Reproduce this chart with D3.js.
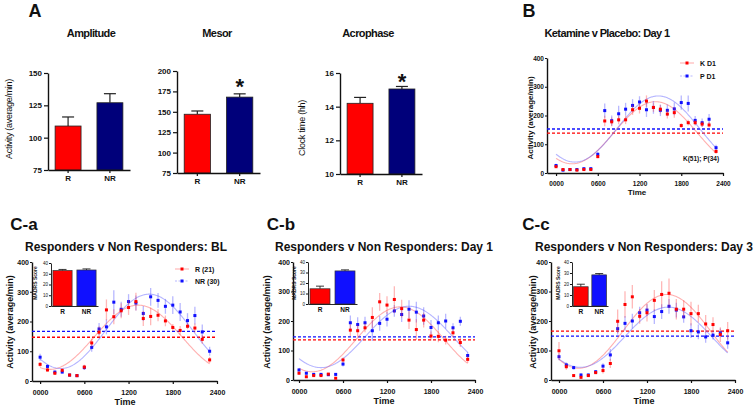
<!DOCTYPE html>
<html><head><meta charset="utf-8">
<script src="https://cdn.jsdelivr.net/npm/d3@7"></script>
<style>
body{margin:0;background:#fff}
svg{display:block}
text{font-family:"Liberation Sans",Arial,sans-serif;fill:#111}
</style>
</head><body>
<svg id="chart" width="754" height="408"></svg>
<script>
// ---------------- DATA ----------------
const groupsA = ["R", "NR"];
const amplitudeVals = [109, 127];
const amplitudeErr = [7, 7];
const mesorVals = [147, 168];
const mesorErr = [4, 4];
const acrophaseVals = [14.2, 15.05];
const acrophaseErr = [0.35, 0.15];
const amplitudeTicks = [75, 100, 125, 150];
const mesorTicks = [75, 100, 125, 150, 175, 200];
const acrophaseTicks = [10, 12, 14, 16];

const hours = [0,1,2,3,4,5,6,7,8,9,10,11,12,13,14,15,16,17,18,19,20,21,22,23];
const timeTickVals = [0, 6, 12, 18, 24];
const timeTickLabels = ["0000", "0600", "1200", "1800", "2400"];
const activityTicks = [0, 100, 200, 300, 400];

// Panel B: Ketamine (K D1) vs Placebo (P D1)
const bK = [22,12,12,10,12,12,57,181,178,185,185,220,225,250,228,222,205,210,165,175,175,170,167,75];
const bKErr = [5,4,3,4,4,4,6,18,15,15,15,18,18,20,15,15,15,18,8,10,10,10,10,8];
const bP = [26,10,12,12,15,15,65,217,182,206,222,235,247,220,228,218,218,223,245,242,183,175,187,88];
const bPErr = [6,4,3,4,4,4,8,25,18,28,22,22,20,25,22,20,20,22,25,28,15,15,18,10];
const bMesorLines = [139, 153];          // K, P
const bFitK = [140, 108, 14.3];          // mesor, amplitude, acrophase (h)
const bFitP = [153, 115, 14.7];

// Panel C-a: Responders vs Non Responders, BL
const caR = [56,37,26,36,20,18,47,128,164,239,216,236,247,267,210,217,221,202,180,170,184,178,140,71];
const caRErr = [8,6,5,5,4,4,8,14,20,35,25,25,25,30,25,30,20,18,12,15,10,15,15,10];
const caNR = [80,49,30,30,20,18,45,113,175,182,265,241,267,262,227,283,271,251,255,232,203,220,165,100];
const caNRErr = [12,8,5,5,4,4,8,15,20,25,40,25,25,25,25,30,25,25,30,30,25,30,25,15];
const caMesorLines = [147, 167];
const caFitR = [147, 108, 13.3];
const caFitNR = [167, 125, 14.8];
const caMadrs = [33, 33.5];
const caMadrsErr = [1, 1];

// Panel C-b: Day 1
const cbR = [23,11,15,15,20,6,68,169,167,177,212,265,254,273,242,203,171,203,149,148,135,160,127,70];
const cbRErr = [5,4,3,3,3,3,8,20,20,15,35,30,30,45,30,30,35,25,15,20,15,15,15,12];
const cbNR = [34,23,19,19,18,19,54,194,188,194,167,192,206,234,222,240,230,217,178,194,200,177,199,83];
const cbNRErr = [6,4,3,3,3,3,8,25,25,20,35,25,25,20,25,30,35,30,25,25,25,15,15,12];
const cbMesorLines = [136, 146];
const cbFitR = [138, 110, 13.8];
const cbFitNR = [146, 104, 15.0];
const cbMadrs = [14.5, 31.5];
const cbMadrsErr = [2.5, 1];

// Panel C-c: Day 3
const ccR = [99,45,15,9,15,25,32,56,199,256,282,216,228,270,290,294,240,240,225,225,190,188,154,167];
const ccRErr = [30,10,3,3,3,5,10,15,40,45,40,25,30,35,45,50,35,30,40,30,30,25,25,30];
const ccNR = [79,51,42,17,17,28,47,85,174,192,200,228,237,215,232,250,237,214,167,163,146,152,160,126];
const ccNRErr = [12,8,6,6,5,6,10,20,20,25,25,20,20,25,25,25,25,20,25,25,20,15,15,20];
const ccMesorLines = [166, 149];
const ccFitR = [165, 125, 14.7];
const ccFitNR = [145, 102, 14.9];
const ccMadrs = [17.5, 28.3];
const ccMadrsErr = [2.3, 1.2];
const madrsTicks = [0, 10, 20, 30, 40];

// ---------------- DRAWING ----------------
const svg = d3.select("#chart");
const RED = "#ff0000", BLUE = "#1010ff", NAVY = "#00007a";
const fmtInt = d3.format("d");

function styleAxis(sel, fs, weight) {
  sel.select(".domain").attr("stroke", "#111").attr("stroke-width", 1.4);
  sel.selectAll(".tick line").attr("stroke", "#111").attr("stroke-width", 1.2);
  sel.selectAll(".tick text").attr("font-size", fs).attr("font-weight", weight || "bold")
     .attr("font-family", '"Liberation Sans",Arial,sans-serif').attr("fill", "#111");
}

function txt(x, y, s, fs, opts) {
  opts = opts || {};
  const t = svg.append("text").attr("x", x).attr("y", y).text(s)
    .attr("font-size", fs).attr("font-weight", opts.weight || "bold")
    .attr("text-anchor", opts.anchor || "middle");
  if (opts.ls) t.attr("letter-spacing", opts.ls);
  if (opts.rotate) t.attr("x", 0).attr("y", 0).attr("transform", `translate(${x},${y}) rotate(-90)`);
  return t;
}

// Panel A bar charts
function barPanel(cfg) {
  const g = svg.append("g");
  const x = d3.scaleBand().domain(groupsA).range([cfg.left, cfg.right]).paddingInner(0.38).paddingOuter(0.17);
  const y = d3.scaleLinear().domain(cfg.domain).range([cfg.bottom, cfg.top]);
  const colors = [RED, NAVY];
  groupsA.forEach((k, i) => {
    const cx = x(k) + x.bandwidth() / 2;
    g.append("line").attr("x1", cx).attr("x2", cx).attr("y1", y(cfg.vals[i])).attr("y2", y(cfg.vals[i] + cfg.errs[i]))
      .attr("stroke", "#222").attr("stroke-width", 1.2);
    g.append("line").attr("x1", cx - 6).attr("x2", cx + 6).attr("y1", y(cfg.vals[i] + cfg.errs[i])).attr("y2", y(cfg.vals[i] + cfg.errs[i]))
      .attr("stroke", "#222").attr("stroke-width", 1.2);
  });
  g.selectAll("rect.bar").data(cfg.vals).join("rect")
    .attr("x", (d, i) => x(groupsA[i])).attr("width", x.bandwidth())
    .attr("y", d => y(d)).attr("height", d => cfg.bottom - y(d))
    .attr("fill", (d, i) => colors[i]).attr("stroke", "#222").attr("stroke-width", 0.8);
  const ya = g.append("g").attr("transform", `translate(${cfg.left},0)`)
    .call(d3.axisLeft(y).tickValues(cfg.ticks).tickFormat(fmtInt).tickSize(4).tickPadding(2).tickSizeOuter(0));
  styleAxis(ya, 8);
  const xa = g.append("g").attr("transform", `translate(0,${cfg.bottom})`)
    .call(d3.axisBottom(x).tickSize(3).tickPadding(2).tickSizeOuter(0));
  styleAxis(xa, 8);
  if (cfg.star) {
    const cx = x("NR") + x.bandwidth() / 2;
    txt(cx, cfg.starY, "*", 22, {});
  }
}

barPanel({left: 48, right: 130, top: 73, bottom: 170, domain: [75, 150], ticks: amplitudeTicks,
  vals: amplitudeVals, errs: amplitudeErr});
barPanel({left: 177, right: 260, top: 71, bottom: 173, domain: [75, 200], ticks: mesorTicks,
  vals: mesorVals, errs: mesorErr, star: true, starY: 94});
barPanel({left: 340, right: 422, top: 73, bottom: 174, domain: [10, 16], ticks: acrophaseTicks,
  vals: acrophaseVals, errs: acrophaseErr, star: true, starY: 89});

txt(35, 17, "A", 18, {weight: "900"});
txt(91, 37, "Amplitude", 11, {ls: "-0.6px"});
txt(217, 37, "Mesor", 11, {ls: "-0.6px"});
txt(368, 37, "Acrophase", 11, {ls: "-0.6px"});
txt(11.5, 119, "Activity (average/min)", 9, {weight: "normal", rotate: true, ls: "-0.3px"});
txt(305, 128, "Clock time (hh)", 9, {weight: "normal", rotate: true, ls: "-0.3px"});

// Time series panels
function timePanel(cfg) {
  const g = svg.append("g");
  const x = d3.scaleLinear().domain([cfg.x0h, 24]).range([cfg.left, cfg.right]);
  const y = d3.scaleLinear().domain([0, 400]).range([cfg.bottom, cfg.top]);
  const cols = [RED, BLUE];
  const light = ["rgba(255,40,40,0.33)", "rgba(40,40,255,0.33)"];
  const curveCol = ["rgba(255,80,80,0.45)", "rgba(90,90,255,0.45)"];

  const xa = g.append("g").attr("transform", `translate(0,${cfg.bottom})`)
    .call(d3.axisBottom(x).tickValues(timeTickVals).tickFormat((d, i) => timeTickLabels[i])
      .tickSize(3).tickPadding(cfg.xPad).tickSizeOuter(0));
  styleAxis(xa, cfg.tickFs);
  const ya = g.append("g").attr("transform", `translate(${cfg.left},0)`)
    .call(d3.axisLeft(y).tickValues(activityTicks).tickFormat(fmtInt).tickSize(2).tickPadding(1).tickSizeOuter(0));
  styleAxis(ya, cfg.tickFs);

  cfg.mesors.forEach((m, i) => {
    g.append("line").attr("x1", cfg.left).attr("x2", x(24)).attr("y1", y(m)).attr("y2", y(m))
      .attr("stroke", cols[i]).attr("stroke-width", 1.3).attr("stroke-dasharray", "3,2");
  });

  const line = d3.line().x(d => x(d[0])).y(d => y(d[1]));
  cfg.fits.forEach((f, i) => {
    const pts = d3.range(0, 23.01, 0.1).map(h => [h, f[0] + f[1] * Math.cos(2 * Math.PI * (h - f[2]) / 24)]);
    g.append("path").attr("d", line(pts)).attr("fill", "none").attr("stroke", curveCol[i]).attr("stroke-width", 1.1);
  });

  [1, 0].forEach(i => {
    const vals = cfg.series[i], errs = cfg.errs[i];
    g.selectAll(null).data(hours).join("line")
      .attr("x1", h => x(h)).attr("x2", h => x(h))
      .attr("y1", (h, j) => y(vals[j] - errs[j])).attr("y2", (h, j) => y(vals[j] + errs[j]))
      .attr("stroke", light[i]).attr("stroke-width", 1.3);
    g.selectAll(null).data(hours).join("rect")
      .attr("x", h => x(h) - 1.5).attr("y", (h, j) => y(vals[j]) - 1.5)
      .attr("width", 3).attr("height", 3).attr("fill", cols[i]);
  });

  if (cfg.inset) {
    const ins = cfg.inset;
    const ix = d3.scaleBand().domain(groupsA).range([ins.left, ins.right]).paddingInner(0.2).paddingOuter(0.08);
    const iy = d3.scaleLinear().domain([0, 40]).range([ins.bottom, ins.top]);
    const icol = [RED, BLUE];
    groupsA.forEach((k, i) => {
      const cx = ix(k) + ix.bandwidth() / 2;
      const v = ins.vals[i], e = ins.errs[i];
      g.append("line").attr("x1", cx).attr("x2", cx).attr("y1", iy(v)).attr("y2", iy(v + e)).attr("stroke", "#222").attr("stroke-width", 0.9);
      g.append("line").attr("x1", cx - 4).attr("x2", cx + 4).attr("y1", iy(v + e)).attr("y2", iy(v + e)).attr("stroke", "#222").attr("stroke-width", 0.9);
      g.append("rect").attr("x", ix(k)).attr("width", ix.bandwidth()).attr("y", iy(v)).attr("height", ins.bottom - iy(v))
        .attr("fill", icol[i]).attr("stroke", "#333").attr("stroke-width", 0.7);
    });
    const iya = g.append("g").attr("transform", `translate(${ins.left},0)`)
      .call(d3.axisLeft(iy).tickValues(madrsTicks).tickFormat(fmtInt).tickSize(2).tickPadding(1).tickSizeOuter(0));
    styleAxis(iya, 4.5, "normal");
    iya.select(".domain").attr("stroke-width", 0.9);
    const ixa = g.append("g").attr("transform", `translate(0,${ins.bottom})`)
      .call(d3.axisBottom(ix).tickSize(0).tickPadding(3).tickSizeOuter(0));
    styleAxis(ixa, 6.5);
    ixa.select(".domain").attr("stroke-width", 0.9);
    txt(ins.labelX, 283, "MADRS Score", 5, {rotate: true});
  }

  if (cfg.legend) {
    const L = cfg.legend;
    L.labels.forEach((lab, i) => {
      const yy = L.y + i * L.dy;
      g.append("line").attr("x1", L.x).attr("x2", L.x + 14).attr("y1", yy).attr("y2", yy)
        .attr("stroke", light[i]).attr("stroke-width", 1.2).attr("stroke-dasharray", i ? "2,1.5" : null);
      g.append("rect").attr("x", L.x + 5.5).attr("y", yy - 1.5).attr("width", 3).attr("height", 3).attr("fill", cols[i]);
      txt(L.x + 20, yy + 2.5, lab, L.fs, {anchor: "start"});
    });
  }

  txt(cfg.timeX, cfg.timeY, "Time", cfg.timeFs, {});
  txt(cfg.ylabX, cfg.ylabY, "Activity (average/min)", cfg.ylabFs, {rotate: true});
}

// Panel B
txt(529, 17, "B", 18, {weight: "900"});
txt(607, 37, "Ketamine v Placebo: Day 1", 11, {ls: "-0.6px"});
timePanel({left: 547, right: 723, x0h: -1.3, top: 58, bottom: 173, tickFs: 6.5, xPad: 5,
  series: [bK, bP], errs: [bKErr, bPErr], mesors: bMesorLines, fits: [bFitK, bFitP],
  legend: {x: 680, y: 63, dy: 13, labels: ["K D1", "P D1"], fs: 7},
  timeX: 637, timeY: 195, timeFs: 8, ylabX: 533, ylabY: 118, ylabFs: 8});
txt(683, 161, "K(51); P(34)", 6.5, {anchor: "start"});

// Panel C-a
txt(24, 230, "C-a", 17, {weight: "900"});
txt(126, 251, "Responders v Non Responders: BL", 12, {});
timePanel({left: 32, right: 217, x0h: -1.1, top: 262, bottom: 381, tickFs: 7, xPad: 6,
  series: [caR, caNR], errs: [caRErr, caNRErr], mesors: caMesorLines, fits: [caFitR, caFitNR],
  inset: {left: 51, right: 98, top: 263, bottom: 306, vals: caMadrs, errs: caMadrsErr, labelX: 37},
  legend: {x: 175, y: 269, dy: 12, labels: ["R (21)", "NR (30)"], fs: 7},
  timeX: 125, timeY: 405, timeFs: 9, ylabX: 13, ylabY: 322, ylabFs: 9});

// Panel C-b
txt(281, 230, "C-b", 17, {weight: "900"});
txt(384, 251, "Responders v Non Responders: Day 1", 12, {});
timePanel({left: 293, right: 475, x0h: -0.82, top: 262, bottom: 380, tickFs: 7, xPad: 6,
  series: [cbR, cbNR], errs: [cbRErr, cbNRErr], mesors: cbMesorLines, fits: [cbFitR, cbFitNR],
  inset: {left: 308, right: 357, top: 262, bottom: 304, vals: cbMadrs, errs: cbMadrsErr, labelX: 296},
  timeX: 384, timeY: 404, timeFs: 9, ylabX: 270, ylabY: 322, ylabFs: 9});

// Panel C-c
txt(536, 230, "C-c", 17, {weight: "900"});
txt(644, 251, "Responders v Non Responders: Day 3", 12, {});
timePanel({left: 551, right: 735, x0h: -1.09, top: 262, bottom: 380, tickFs: 7, xPad: 6,
  series: [ccR, ccNR], errs: [ccRErr, ccNRErr], mesors: ccMesorLines, fits: [ccFitR, ccFitNR],
  inset: {left: 572, right: 608, top: 262, bottom: 306, vals: ccMadrs, errs: ccMadrsErr, labelX: 560},
  timeX: 644, timeY: 404, timeFs: 9, ylabX: 536, ylabY: 322, ylabFs: 9});
</script>
</body></html>
